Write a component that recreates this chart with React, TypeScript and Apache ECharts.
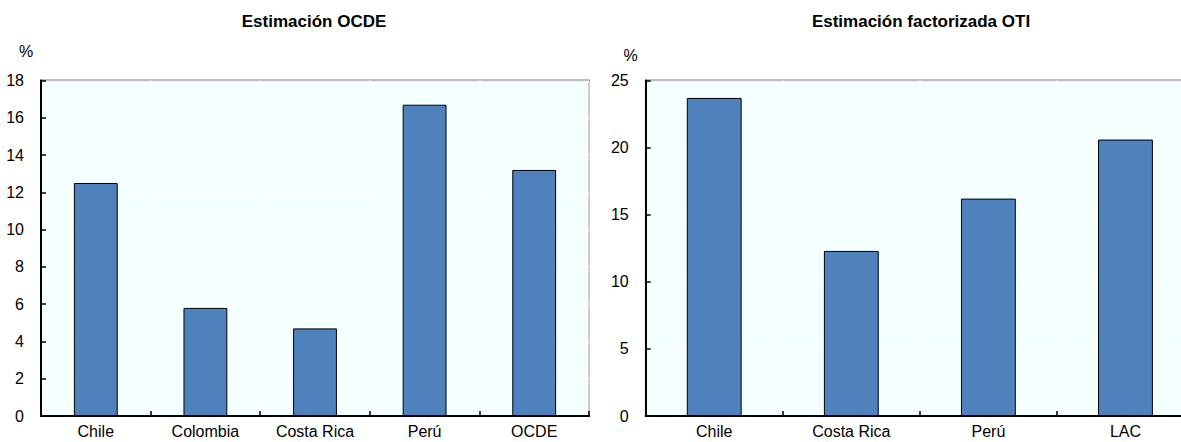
import React, { useEffect, useRef } from "react";
import * as echarts from "echarts";

const leftCategories = ["Chile", "Colombia", "Costa Rica", "Perú", "OCDE"];
const leftValues = [12.5, 5.8, 4.7, 16.7, 13.2];
const rightCategories = ["Chile", "Costa Rica", "Perú", "LAC"];
const rightValues = [23.7, 12.3, 16.2, 20.6];
const leftTitle = "Estimación OCDE";
const rightTitle = "Estimación factorizada OTI";

const FONT = "'Liberation Sans', Arial, sans-serif";

export default function App() {
  const ref = useRef<HTMLDivElement>(null);
  useEffect(() => {
    document.body.style.margin = "0";
    const chart = echarts.init(ref.current!, null, { renderer: "svg" });
    const grids = [
      { left: 41, top: 80.5, width: 548, height: 335.5 },
      { left: 645.7, top: 80.5, width: 548.3, height: 335.5 },
    ];
    const xAxis = (idx: number, cats: string[]) => ({
      type: "category",
      gridIndex: idx,
      data: cats,
      boundaryGap: true,
      axisLine: { lineStyle: { color: "#000", width: 2 } },
      axisTick: { show: true, inside: true, length: 5, alignWithLabel: false, lineStyle: { color: "#000", width: 1.5 } },
      axisLabel: { color: "#000", fontSize: 16, fontFamily: FONT, margin: 7, interval: 0 },
      splitLine: { show: true, lineStyle: { color: "#ffffff", width: 1.5 } },
    });
    const yAxis = (idx: number, max: number, interval: number) => ({
      type: "value",
      gridIndex: idx,
      min: 0,
      max,
      interval,
      axisLine: { show: true, lineStyle: { color: "#000", width: 2 } },
      axisTick: { show: true, inside: true, length: 5, lineStyle: { color: "#000", width: 1.5 } },
      axisLabel: { color: "#000", fontSize: 16, fontFamily: FONT, margin: 17 },
      splitLine: { show: true, lineStyle: { color: "#ffffff", width: 1.5 } },
    });
    chart.setOption({
      animation: false,
      backgroundColor: "#ffffff",
      textStyle: { fontFamily: FONT },
      title: [
        {
          text: leftTitle,
          left: 309,
          top: 8,
          textAlign: "center",
          textStyle: { fontSize: 17, fontWeight: "bold", color: "#000", fontFamily: FONT },
        },
        {
          text: rightTitle,
          left: 916,
          top: 8,
          textAlign: "center",
          textStyle: { fontSize: 17, fontWeight: "bold", color: "#000", fontFamily: FONT },
        },
        {
          text: "%",
          left: 21,
          top: 38,
          textAlign: "center",
          textStyle: { fontSize: 16, fontWeight: "normal", color: "#000", fontFamily: FONT },
        },
        {
          text: "%",
          left: 625.5,
          top: 42,
          textAlign: "center",
          textStyle: { fontSize: 16, fontWeight: "normal", color: "#000", fontFamily: FONT },
        },
      ],
      grid: grids.map((g) => ({
        ...g,
        show: true,
        backgroundColor: "#F4FFFF",
        borderColor: "#000",
        borderWidth: 1.5,
        containLabel: false,
        outerBoundsMode: "none",
      })),
      xAxis: [xAxis(0, leftCategories), xAxis(1, rightCategories)],
      yAxis: [yAxis(0, 18, 2), yAxis(1, 25, 5)],
      series: [
        {
          type: "bar",
          xAxisIndex: 0,
          yAxisIndex: 0,
          data: leftValues,
          barWidth: "40%",
          itemStyle: { color: "#4F81BD", borderColor: "#000", borderWidth: 1 },
        },
        {
          type: "bar",
          xAxisIndex: 1,
          yAxisIndex: 1,
          data: rightValues,
          barWidth: "40%",
          itemStyle: { color: "#4F81BD", borderColor: "#000", borderWidth: 1 },
        },
      ],
    });
    return () => chart.dispose();
  }, []);
  return <div ref={ref} style={{ width: 1181, height: 442 }} />;
}
